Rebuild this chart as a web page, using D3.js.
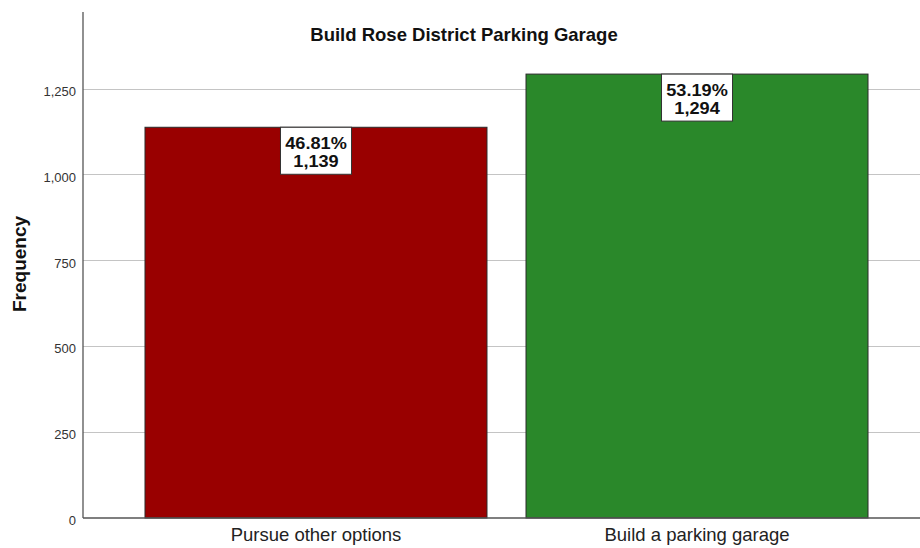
<!DOCTYPE html>
<html><head><meta charset="utf-8">
<script src="https://cdn.jsdelivr.net/npm/d3@7/dist/d3.min.js"></script>
<style>body{margin:0;background:#fff}svg{display:block}text{font-family:"Liberation Sans",Arial,sans-serif}</style>
</head><body><svg id="c" width="920" height="548"></svg>
<script>
const categories = ["Pursue other options", "Build a parking garage"];
const counts = [1139, 1294];
const percents = [46.81, 53.19];
const tickValues = [0, 250, 500, 750, 1000, 1250];
const colors = ["#990000", "#2a882a"];
const title = "Build Rose District Parking Garage";
const yLabel = "Frequency";

(function () {
const svg = d3.select("#c");
const mLeft = 83, mTop = 12, mBottom = 518;
const y = d3.scaleLinear().domain([0, 1475]).range([mBottom, mTop]);
const x = d3.scaleBand().domain(categories).range([mLeft, 930]).paddingInner(0.1024).paddingOuter(0.1627);

// gridlines
svg.append("g").selectAll("line").data(tickValues.filter(d => d > 0)).join("line")
  .attr("x1", mLeft).attr("x2", 920).attr("y1", d => y(d)).attr("y2", d => y(d))
  .attr("stroke", "#c4c4c4").attr("stroke-width", 1).attr("shape-rendering", "crispEdges");

// y axis
const yAxis = d3.axisLeft(y).tickValues(tickValues).tickSize(0).tickPadding(7).tickFormat(d3.format(","));
const ga = svg.append("g").attr("transform", `translate(${mLeft},0)`).call(yAxis);
ga.select(".domain").remove();
ga.selectAll("text").attr("font-size", 13).attr("fill", "#333").attr("dy", "0.5em")
  .style("font-family", '"Liberation Sans",Arial,sans-serif');

// bars
svg.append("g").selectAll("rect").data(categories).join("rect")
  .attr("x", d => x(d)).attr("width", x.bandwidth())
  .attr("y", (d, i) => y(counts[i])).attr("height", (d, i) => y(0) - y(counts[i]))
  .attr("fill", (d, i) => colors[i]).attr("stroke", "#2b2b2b").attr("stroke-width", 1);

// axis lines
svg.append("line").attr("x1", mLeft).attr("x2", mLeft).attr("y1", mTop).attr("y2", mBottom)
  .attr("stroke", "#555").attr("stroke-width", 1.3);
svg.append("line").attr("x1", mLeft).attr("x2", 920).attr("y1", mBottom).attr("y2", mBottom)
  .attr("stroke", "#555").attr("stroke-width", 1.3);

// labels
const lg = svg.append("g").selectAll("g").data(categories).join("g")
  .attr("transform", (d, i) => `translate(${x(d) + x.bandwidth() / 2},${y(counts[i])})`);
lg.append("rect").attr("x", -35.5).attr("y", 0).attr("width", 71).attr("height", 47)
  .attr("fill", "#fff").attr("stroke", "#333").attr("stroke-width", 1);
function stretch(sel) {
  sel.each(function () {
    const w = this.getComputedTextLength();
    d3.select(this).attr("textLength", w * 1.1).attr("lengthAdjust", "spacingAndGlyphs");
  });
}
lg.append("text").attr("text-anchor", "middle").attr("y", 21.5).attr("font-size", 16.5).attr("font-weight", "bold")
  .attr("fill", "#111").text((d, i) => percents[i].toFixed(2) + "%").call(stretch);
lg.append("text").attr("text-anchor", "middle").attr("y", 40).attr("font-size", 16.5).attr("font-weight", "bold")
  .attr("fill", "#111").text((d, i) => d3.format(",")(counts[i])).call(stretch);

// category labels
svg.append("g").selectAll("text").data(categories).join("text")
  .attr("x", d => x(d) + x.bandwidth() / 2).attr("y", 541).attr("text-anchor", "middle")
  .attr("font-size", 18.5).attr("fill", "#222").text(d => d);

// title
svg.append("text").attr("x", 464).attr("y", 41).attr("text-anchor", "middle")
  .attr("font-size", 18.5).attr("font-weight", "bold").attr("fill", "#111").text(title);

// y label
svg.append("text").attr("transform", "translate(26,264) rotate(-90)").attr("text-anchor", "middle")
  .attr("font-size", 19).attr("font-weight", "bold").attr("fill", "#111").text(yLabel);
})();
</script></body></html>
